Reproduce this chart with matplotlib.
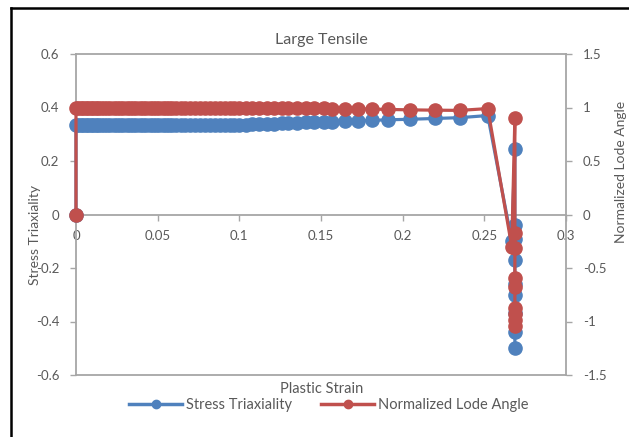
import matplotlib
matplotlib.use('Agg')
import matplotlib.pyplot as plt
from matplotlib.lines import Line2D

# data
plastic_strain = [0, 0,
    0.0015, 0.003, 0.0045, 0.006, 0.0075, 0.009, 0.0105, 0.012, 0.0135, 0.015,
    0.017, 0.019, 0.021, 0.023, 0.025, 0.027, 0.029, 0.031, 0.033, 0.035,
    0.037, 0.039, 0.041, 0.043, 0.045, 0.047, 0.049, 0.051, 0.053, 0.055,
    0.057, 0.059, 0.061, 0.064, 0.067, 0.070, 0.073, 0.076, 0.079, 0.082,
    0.085, 0.088, 0.091, 0.094, 0.097, 0.100, 0.104, 0.108, 0.112, 0.117,
    0.121, 0.126, 0.130, 0.135, 0.141, 0.146, 0.152, 0.157, 0.1645, 0.1726,
    0.1811, 0.1909, 0.2044, 0.2197, 0.2350, 0.2521,
    0.2668, 0.2687, 0.2687, 0.2687, 0.2687, 0.2687, 0.2687, 0.2687, 0.2687, 0.2687]

stress_triaxiality = [0, 0.333,
    0.333, 0.333, 0.333, 0.333, 0.333, 0.333, 0.333, 0.333, 0.333, 0.333,
    0.333, 0.333, 0.333, 0.333, 0.333, 0.333, 0.333, 0.333, 0.333, 0.333,
    0.333, 0.333, 0.333, 0.333, 0.333, 0.333, 0.333, 0.333, 0.333, 0.333,
    0.333, 0.333, 0.333, 0.333, 0.334, 0.334, 0.334, 0.334, 0.334, 0.334,
    0.334, 0.334, 0.335, 0.335, 0.335, 0.336, 0.336, 0.337, 0.338, 0.339,
    0.340, 0.341, 0.342, 0.343, 0.344, 0.345, 0.346, 0.347, 0.348, 0.350,
    0.352, 0.354, 0.356, 0.359, 0.362, 0.370,
    -0.10, 0.245, -0.04, -0.09, -0.17, -0.26, -0.30, -0.37, -0.44, -0.50]

lode_angle = [0, 1.0,
    1.0, 1.0, 1.0, 1.0, 1.0, 1.0, 1.0, 1.0, 1.0, 1.0,
    1.0, 1.0, 1.0, 1.0, 1.0, 1.0, 1.0, 1.0, 1.0, 1.0,
    1.0, 1.0, 1.0, 1.0, 1.0, 1.0, 1.0, 1.0, 1.0, 1.0,
    1.0, 1.0, 1.0, 1.0, 1.0, 1.0, 1.0, 1.0, 1.0, 1.0,
    1.0, 1.0, 1.0, 1.0, 1.0, 1.0, 0.999, 0.999, 0.998, 0.998,
    0.997, 0.996, 0.995, 0.994, 0.993, 0.992, 0.991, 0.990, 0.989, 0.988,
    0.985, 0.982, 0.978, 0.975, 0.973, 0.990,
    -0.30, 0.906, -0.17, -0.31, -0.59, -0.68, -0.87, -0.93, -0.99, -1.04]

x_ticks = [0, 0.05, 0.1, 0.15, 0.2, 0.25, 0.3]
x_labels = ['0', '0.05', '0.1', '0.15', '0.2', '0.25', '0.3']
left_ticks = [-0.6, -0.4, -0.2, 0, 0.2, 0.4, 0.6]
left_labels = ['-0.6', '-0.4', '-0.2', '0', '0.2', '0.4', '0.6']
right_ticks = [-1.5, -1, -0.5, 0, 0.5, 1, 1.5]
right_labels = ['-1.5', '-1', '-0.5', '0', '0.5', '1', '1.5']

BLUE = '#4F81BD'
RED = '#C0504D'
GRID = '#A6A6A6'
TEXT = '#595959'

plt.rcParams['font.family'] = ['Lato', 'DejaVu Sans']
plt.rcParams['axes.unicode_minus'] = False

fig = plt.figure(figsize=(6.29, 4.37), dpi=100)
ax = fig.add_axes([76/629, 1-375/437, 490/629, 321/437])
ax2 = ax.twinx()

ax.plot(plastic_strain, stress_triaxiality, color=BLUE, lw=2.3, marker='o',
        ms=9.5, mec=BLUE, mfc=BLUE, clip_on=False, zorder=3)
ax2.plot(plastic_strain, lode_angle, color=RED, lw=2.3, marker='o',
         ms=9.5, mec=RED, mfc=RED, clip_on=False, zorder=3)

ax.set_xlim(0, 0.3)
ax.set_ylim(-0.6, 0.6)
ax2.set_ylim(-1.5, 1.5)

ax.set_xticks(x_ticks)
ax.set_xticklabels(x_labels)
ax.set_yticks(left_ticks)
ax.set_yticklabels(left_labels)
ax2.set_yticks(right_ticks)
ax2.set_yticklabels(right_labels)

# frame: left/top on ax, bottom spine moved to zero, right & bottom edge on ax2
for a in (ax, ax2):
    for s in a.spines.values():
        s.set_color(GRID)
        s.set_linewidth(1.3)
ax.spines['bottom'].set_position(('data', 0))
ax.spines['right'].set_visible(False)
ax2.spines['left'].set_visible(False)
ax2.spines['top'].set_visible(False)

ax.tick_params(axis='x', direction='out', length=4, width=1, color=GRID,
               labelsize=9.5, labelcolor=TEXT, pad=7)
ax.tick_params(axis='y', direction='out', length=4, width=1, color=GRID,
               labelsize=9.5, labelcolor=TEXT, pad=8)
ax2.tick_params(axis='y', direction='out', length=4, width=1, color=GRID,
                labelsize=9.5, labelcolor=TEXT, pad=8)
ax2.tick_params(axis='x', bottom=False, labelbottom=False)

fig.text(321/629, 1-40/437, 'Large Tensile', ha='center', va='center',
         fontsize=11.5, color=TEXT)
fig.text(35/629, 1-235/437, 'Stress Triaxiality', rotation=90, ha='center',
         va='center', fontsize=10, color=TEXT)
fig.text(621/629, 1-172/437, 'Normalized Lode Angle', rotation=90,
         ha='center', va='center', fontsize=10, color=TEXT)
fig.text(322/629, 1-389/437, 'Plastic Strain', ha='center', va='center',
         fontsize=10.5, color=TEXT)

handles = [Line2D([], [], color=BLUE, lw=2.5, marker='o', ms=6),
           Line2D([], [], color=RED, lw=2.5, marker='o', ms=6)]
fig.legend(handles, ['Stress Triaxiality', 'Normalized Lode Angle'],
           loc='center', bbox_to_anchor=(329/629, 1-405/437), ncol=2,
           frameon=False, fontsize=10.5, labelcolor=TEXT, handlelength=3.6,
           handletextpad=0.3, columnspacing=2.0, borderpad=0)

# outer chart border (only left and top edges show in the crop)
fig.add_artist(Line2D([11/629, 11/629], [0, 1-8/437], color='black', lw=1.8))
fig.add_artist(Line2D([11/629, 1], [1-8/437, 1-8/437], color='black', lw=1.8))

fig.savefig('out.png', dpi=100)
